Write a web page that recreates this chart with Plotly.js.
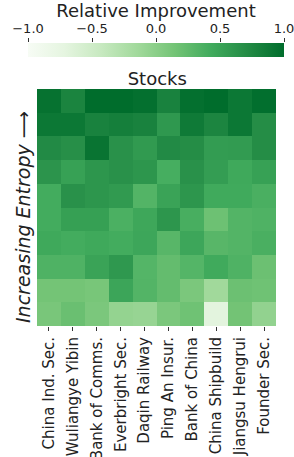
<!DOCTYPE html>
<html>
<head>
<meta charset="utf-8">
<script src="https://cdn.plot.ly/plotly-3.0.1.min.js"></script>
<style>html,body{margin:0;padding:0;background:#fff;}#chart{width:294px;height:457px;}</style>
</head>
<body>
<div id="chart"></div>
<script>
var stocks = ["China Ind. Sec.", "Wuliangye Yibin", "Bank of Comms.", "Everbright Sec.", "Daqin Railway", "Ping An Insur.", "Bank of China", "China Shipbuild", "Jiangsu Hengrui", "Founder Sec."];
var entropyLevels = [0, 1, 2, 3, 4, 5, 6, 7, 8, 9];
var row0 = [0.95, 0.78, 1.00, 1.00, 0.97, 0.80, 0.97, 1.00, 0.90, 0.98];
var row1 = [0.90, 0.90, 0.80, 0.83, 0.80, 0.60, 0.88, 0.77, 0.90, 0.70];
var row2 = [0.72, 0.68, 0.93, 0.66, 0.58, 0.72, 0.70, 0.56, 0.57, 0.70];
var row3 = [0.63, 0.52, 0.62, 0.66, 0.62, 0.40, 0.66, 0.55, 0.45, 0.52];
var row4 = [0.42, 0.66, 0.62, 0.58, 0.33, 0.50, 0.62, 0.44, 0.44, 0.38];
var row5 = [0.42, 0.53, 0.53, 0.37, 0.46, 0.62, 0.39, 0.18, 0.33, 0.35];
var row6 = [0.45, 0.42, 0.45, 0.42, 0.47, 0.30, 0.47, 0.30, 0.33, 0.38];
var row7 = [0.35, 0.35, 0.50, 0.60, 0.32, 0.23, 0.32, 0.44, 0.35, 0.19];
var row8 = [0.14, 0.14, 0.12, 0.48, 0.33, 0.23, 0.10, -0.14, 0.19, 0.17];
var row9 = [0.11, 0.20, 0.10, -0.06, -0.08, 0.10, 0.17, -0.70, 0.15, -0.05];
var zValues = [row0, row1, row2, row3, row4, row5, row6, row7, row8, row9];
var cbTickVals = [-1, -0.5, 0, 0.5, 1];
var cbTickText = ["\u22121.0", "\u22120.5", "0.0", "0.5", "1.0"];

var greens = [
  [0.0, "#f7fcf5"], [0.142857, "#e5f5e0"], [0.285714, "#c7e9c0"],
  [0.428571, "#a1d99b"], [0.571429, "#74c476"], [0.714286, "#41ab5d"],
  [0.857143, "#238b45"], [1.0, "#006d2c"]
];

var W = 294, H = 457;
var mL = 28, mR = 10, mT = 43, mB = 131;
var plotW = W - mL - mR, plotH = H - mT - mB;
// heatmap area in pixels: x 37..276, y 89..326
var hx0 = (37 - mL) / plotW, hx1 = (276 - mL) / plotW;
var hy1 = (326 - 89) / plotH;
var cbBottom = (326 - 57) / plotH;

var trace = {
  type: "heatmap",
  x: stocks,
  y: entropyLevels,
  z: zValues,
  zmin: -1, zmax: 1,
  colorscale: greens,
  xaxis: "x", yaxis: "y",
  colorbar: {
    orientation: "h",
    x: 0.5, xanchor: "center",
    y: cbBottom, yanchor: "bottom", yref: "paper",
    lenmode: "pixels", len: 256,
    thickness: 14,
    xpad: 0, ypad: 0,
    outlinewidth: 0,
    ticks: "", showticklabels: false
  }
};

var axisHolder = {type: "scatter", x: [], y: [], xaxis: "x2", yaxis: "y2", hoverinfo: "skip", showlegend: false};

var layout = {
  width: W, height: H,
  margin: {l: mL, r: mR, t: mT, b: mB, autoexpand: false},
  paper_bgcolor: "#fff", plot_bgcolor: "rgba(0,0,0,0)",
  font: {family: "DejaVu Sans", color: "#222"},
  showlegend: false,
  title: {text: "Stocks", x: 0.535, xanchor: "center", y: 1 - 79 / H, yanchor: "middle", yref: "container",
          font: {family: "DejaVu Sans", size: 18, color: "#222"}},
  xaxis: {
    type: "category", domain: [hx0, hx1], anchor: "y", automargin: false,
    tickangle: -90, ticks: "outside", ticklen: 4, tickcolor: "#333",
    tickfont: {family: "DejaVu Sans", size: 15, color: "#222"},
    showgrid: false, zeroline: false, showline: false
  },
  yaxis: {
    domain: [0, hy1], anchor: "x", automargin: false,
    autorange: "reversed", showticklabels: false, ticks: "", showgrid: false, zeroline: false, showline: false
  },
  xaxis2: {
    domain: [0, 1], anchor: "y2", side: "top", automargin: false,
    range: [-1, 1], tickvals: cbTickVals, ticktext: cbTickText,
    ticks: "outside", ticklen: 4, tickcolor: "#333", ticklabeloverflow: "allow",
    tickfont: {family: "DejaVu Sans", size: 13, color: "#222"},
    showgrid: false, zeroline: false, showline: false, fixedrange: true,
    title: {text: "Relative Improvement", standoff: 0, font: {family: "DejaVu Sans", size: 18, color: "#222"}}
  },
  yaxis2: {
    domain: [cbBottom, 1], anchor: "x2", visible: false, range: [0, 1], fixedrange: true
  },
  annotations: [{
    text: "<i>Increasing Entropy \u27F6</i>",
    xref: "paper", yref: "paper",
    x: (23 - mL) / plotW, y: (326 - 217) / plotH,
    xanchor: "center", yanchor: "middle",
    textangle: -90, showarrow: false,
    font: {family: "DejaVu Sans", size: 19, color: "#222"}
  }]
};

Plotly.newPlot("chart", [trace, axisHolder], layout, {staticPlot: true, displayModeBar: false});
</script>
</body>
</html>
